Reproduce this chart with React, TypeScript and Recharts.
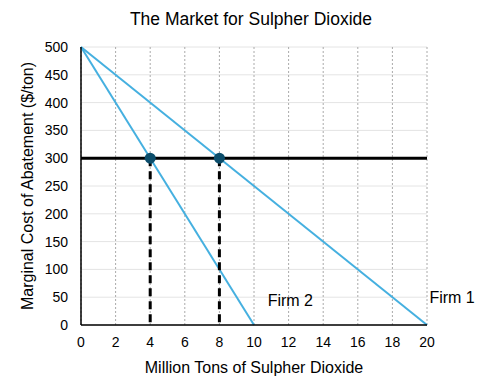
import React from 'react';
import {
  ComposedChart, Line, Scatter, XAxis, YAxis, CartesianGrid, ReferenceDot, Label,
} from 'recharts';

const xTicks = [0, 2, 4, 6, 8, 10, 12, 14, 16, 18, 20];
const yTicks = [0, 50, 100, 150, 200, 250, 300, 350, 400, 450, 500];

const firm1 = [{ x: 0, y: 500 }, { x: 20, y: 0 }];
const firm2 = [{ x: 0, y: 500 }, { x: 10, y: 0 }];
const price = [{ x: 0, y: 300 }, { x: 20, y: 300 }];
const drop4 = [{ x: 4, y: 300 }, { x: 4, y: 0 }];
const drop8 = [{ x: 8, y: 300 }, { x: 8, y: 0 }];
const points = [{ x: 4, y: 300 }, { x: 8, y: 300 }];

const FONT = '"Liberation Sans", Arial, Helvetica, sans-serif';
const BLUE = '#45b0e0';

export default function App() {
  return (
    <div style={{ position: 'absolute', left: 0, top: 0, width: 502, height: 389, background: '#fff', fontFamily: FONT }}>
      <div style={{ position: 'absolute', top: 9, width: 502, textAlign: 'center', fontSize: 17.5, color: '#000' }}>
        The Market for Sulpher Dioxide
      </div>
      <ComposedChart width={502} height={389} margin={{ top: 47, right: 75, bottom: 0, left: 0 }}>
        <CartesianGrid vertical={false} stroke="#e4e4e4" />
        <CartesianGrid horizontal={false} stroke="#aaaaaa" strokeDasharray="2 2" />
        <XAxis
          type="number" dataKey="x" domain={[0, 20]} ticks={xTicks} interval={0} height={64}
          axisLine={{ stroke: '#000', strokeWidth: 1.5 }} tickLine={false}
          tick={{ fill: '#000', fontSize: 14, fontFamily: FONT }} tickMargin={6}
        >
          <Label value="Million Tons of Sulpher Dioxide" position="insideBottom" offset={16}
            style={{ fill: '#000', fontSize: 16, fontFamily: FONT }} />
        </XAxis>
        <YAxis
          type="number" domain={[0, 500]} ticks={yTicks} interval={0} width={81}
          axisLine={{ stroke: '#000', strokeWidth: 1.5 }} tickLine={false}
          tick={{ fill: '#000', fontSize: 14, fontFamily: FONT }} tickMargin={7}
        >
          <Label value="Marginal Cost of Abatement ($/ton)" angle={-90} position="insideLeft" offset={27}
            style={{ fill: '#000', fontSize: 16, fontFamily: FONT, textAnchor: 'middle' }} />
        </YAxis>
        <Line data={firm1} dataKey="y" stroke={BLUE} strokeWidth={2} dot={false} isAnimationActive={false} />
        <Line data={firm2} dataKey="y" stroke={BLUE} strokeWidth={2} dot={false} isAnimationActive={false} />
        <Line data={price} dataKey="y" stroke="#000" strokeWidth={3} dot={false} isAnimationActive={false} />
        <Line data={drop4} dataKey="y" stroke="#000" strokeWidth={3} strokeDasharray="8 5" dot={false} isAnimationActive={false} />
        <Line data={drop8} dataKey="y" stroke="#000" strokeWidth={3} strokeDasharray="8 5" dot={false} isAnimationActive={false} />
        <Scatter data={points} dataKey="y" fill="#0b4d6b" shape={(p: any) => <circle cx={p.cx} cy={p.cy} r={5.5} fill="#0b4d6b" />} isAnimationActive={false} />
        <ReferenceDot x={12.1} y={45} r={0} ifOverflow="visible"
          label={{ value: 'Firm 2', position: 'center', fill: '#000', fontSize: 16, fontFamily: FONT }} />
        <ReferenceDot x={21.45} y={49} r={0} ifOverflow="visible"
          label={{ value: 'Firm 1', position: 'center', fill: '#000', fontSize: 16, fontFamily: FONT }} />
      </ComposedChart>
    </div>
  );
}
